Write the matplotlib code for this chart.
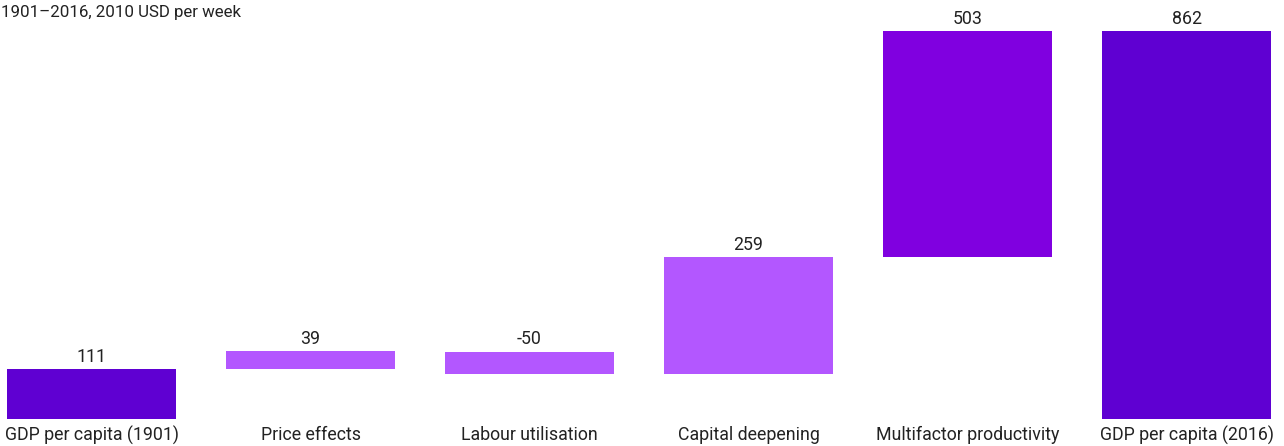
import matplotlib.pyplot as plt

plt.rcParams["font.family"] = ["Roboto", "DejaVu Sans"]

categories = [
    "GDP per capita (1901)",
    "Price effects",
    "Labour utilisation",
    "Capital deepening",
    "Multifactor productivity",
    "GDP per capita (2016)",
]
values = [111, 39, -50, 259, 503, 862]
is_total = [True, False, False, False, False, True]
colors = ["#5f00d2", "#b357ff", "#b357ff", "#b357ff", "#8000e0", "#5f00d2"]

fig = plt.figure(figsize=(12.84, 4.46), dpi=100)
ax = fig.add_axes([0, 27 / 446, 1, 419 / 446])

# Compute waterfall bottoms
bottoms = []
running = 0
for v, tot in zip(values, is_total):
    if tot:
        bottoms.append(0)
        running = v
    else:
        bottoms.append(running if v >= 0 else running + v)
        running += v

x = list(range(len(categories)))
ax.bar(x, [abs(v) for v in values], bottom=bottoms, width=169 / 219, color=colors)

for xi, v, b in zip(x, values, bottoms):
    top = b + abs(v)
    ax.annotate(f"{v}", (xi, top), xytext=(0, 2.5), textcoords="offset points",
                ha="center", va="bottom", fontsize=12.8, color="#222222")

ax.set_xlim(-91.5 / 219, 5 + 97.5 / 219)
ax.set_ylim(0, 419 / 0.45)
ax.axis("off")

for xi, c in zip(x, categories):
    ax.text(xi, -16 / 0.45, c, ha="center", va="center", fontsize=12.8, color="#222222")

fig.text(1 / 1284, 1 - 12 / 446, "1901\u20132016, 2010 USD per week",
         ha="left", va="center", fontsize=12.2, color="#222222")

fig.savefig("out.png", dpi=100)
